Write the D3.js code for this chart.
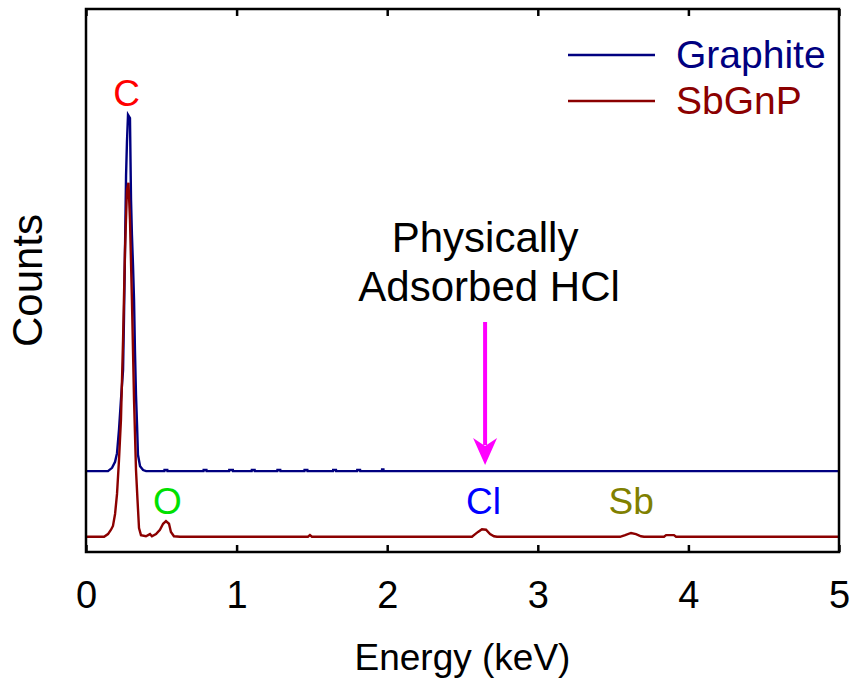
<!DOCTYPE html>
<html>
<head>
<meta charset="utf-8">
<script src="https://cdn.jsdelivr.net/npm/d3@7"></script>
<style>
  body { margin: 0; background: #fff; }
  text { font-family: Arial, "Liberation Sans", sans-serif; }
</style>
</head>
<body>
<div id="chart"></div>
<script>
// x ticks
const tickValues = [0, 1, 2, 3, 4, 5];

// SbGnP spectrum (energy in keV, counts a.u.)
const sbgnpEnergy = [0.00, 0.120, 0.146, 0.166, 0.179, 0.193, 0.206, 0.219, 0.232, 0.246, 0.259, 0.272, 0.282,
    0.292, 0.305, 0.319, 0.332, 0.342, 0.352, 0.365, 0.398, 0.425, 0.438, 0.465, 0.491, 0.512, 0.531, 0.551,
    0.564, 0.584, 0.624, 1.474, 1.487, 1.500, 2.563, 2.576, 2.603, 2.629, 2.656, 2.683, 2.709, 2.729,
    3.546, 3.580, 3.619, 3.652, 3.685, 3.705, 3.838, 3.852, 3.904, 3.918, 5.00];
const sbgnpCounts = [28, 28, 33, 41, 48, 70, 107, 169, 243, 390, 556, 667, 680,
    612, 464, 280, 151, 96, 44, 31, 29, 33, 29, 33, 41, 52, 57, 52,
    37, 29, 28, 28, 31, 28, 28, 31, 37, 42, 41, 33, 29, 28,
    28, 31, 35, 33, 29, 28, 28, 31, 31, 28, 28];

// Graphite spectrum (counts a.u., before vertical offset)
const graphiteEnergy = [0.00, 0.146, 0.173, 0.193, 0.206, 0.219, 0.232, 0.246, 0.252, 0.259, 0.266, 0.272, 0.279,
    0.292, 0.299, 0.305, 0.312, 0.319, 0.325, 0.332, 0.339, 0.345, 0.359, 0.379, 0.399,
    0.520, 0.521, 0.540, 0.541, 0.780, 0.781, 0.800, 0.801, 0.950, 0.951, 0.975, 0.976,
    1.100, 1.101, 1.120, 1.121, 1.270, 1.271, 1.290, 1.291, 1.450, 1.451, 1.470, 1.471,
    1.640, 1.641, 1.660, 1.661, 1.800, 1.801, 1.820, 1.821, 1.965, 1.966, 1.975, 1.976, 5.00];
const graphiteCounts = [27, 27, 33, 44, 60, 103, 158, 213, 305, 434, 572, 633, 683,
    677, 526, 462, 407, 342, 250, 167, 112, 57, 36, 29, 27,
    27, 29, 29, 27, 27, 29, 29, 27, 27, 29, 29, 27,
    27, 29, 29, 27, 27, 29, 29, 27, 27, 29, 29, 27,
    27, 29, 29, 27, 27, 29, 29, 27, 27, 30, 30, 27, 27];
const graphiteOffset = 122;

const seriesNames = ['Graphite', 'SbGnP'];
const seriesColors = ['#000080', '#8b0000'];

// element labels
const elementNames = ['C', 'O', 'Cl', 'Sb'];
const elementEnergy = [0.27, 0.54, 2.64, 3.62];
const elementCounts = [822, 70, 70, 70];
const elementColors = ['#ff0000', '#00e000', '#0000ff', '#808000'];

const arrowEnergy = 2.65;

function EdsChart() {
    let vis = this;
    vis.init();
}

EdsChart.prototype.init = function() {
    let vis = this;
    vis.width = 856;
    vis.height = 684;
    vis.margin = {left: 86, right: 17, top: 9, bottom: 132};

    vis.svg = d3.select('#chart').append('svg')
        .attr('width', vis.width)
        .attr('height', vis.height);

    vis.x = d3.scaleLinear()
        .domain([0, 5])
        .range([vis.margin.left, vis.width - vis.margin.right]);

    vis.y = d3.scaleLinear()
        .domain([0, 1000])
        .range([vis.height - vis.margin.bottom, vis.margin.top]);

    vis.draw();
}

EdsChart.prototype.draw = function() {
    let vis = this;
    let x0 = vis.x.range()[0], x1 = vis.x.range()[1];
    let y0 = vis.y.range()[0], y1 = vis.y.range()[1];

    let line = d3.line()
        .x(d => vis.x(d[0]))
        .y(d => vis.y(d[1]));

    let graphite = graphiteEnergy.map((e, i) => [e, graphiteCounts[i] + graphiteOffset]);
    let sbgnp = sbgnpEnergy.map((e, i) => [e, sbgnpCounts[i]]);

    vis.svg.append('path')
        .datum(graphite)
        .attr('d', line)
        .attr('fill', 'none')
        .attr('stroke', seriesColors[0])
        .attr('stroke-width', 2.4);

    vis.svg.append('path')
        .datum(sbgnp)
        .attr('d', line)
        .attr('fill', 'none')
        .attr('stroke', seriesColors[1])
        .attr('stroke-width', 2.4);

    // bottom axis, inward ticks
    let bottom = vis.svg.append('g')
        .attr('transform', `translate(0,${y0})`)
        .call(d3.axisBottom(vis.x).tickValues(tickValues).tickSize(-7).tickPadding(29).tickFormat(d3.format('d')));
    bottom.select('.domain').remove();
    bottom.selectAll('line').attr('stroke', '#000').attr('stroke-width', 2.5);
    bottom.selectAll('text')
        .attr('font-size', 38)
        .attr('fill', '#000')
        .attr('dy', '0.71em');

    let top = vis.svg.append('g')
        .attr('transform', `translate(0,${y1})`)
        .call(d3.axisTop(vis.x).tickValues(tickValues).tickSize(-7).tickFormat(''));
    top.select('.domain').remove();
    top.selectAll('line').attr('stroke', '#000').attr('stroke-width', 2.5);

    // frame
    vis.svg.append('rect')
        .attr('x', x0)
        .attr('y', y1)
        .attr('width', x1 - x0)
        .attr('height', y0 - y1)
        .attr('fill', 'none')
        .attr('stroke', '#000')
        .attr('stroke-width', 2.5);

    // axis titles
    vis.svg.append('text')
        .text('Energy (keV)')
        .attr('x', (x0 + x1) / 2)
        .attr('y', 670)
        .attr('text-anchor', 'middle')
        .attr('font-size', 37);

    vis.svg.append('text')
        .text('Counts')
        .attr('transform', `translate(42,${(y0 + y1) / 2}) rotate(-90)`)
        .attr('text-anchor', 'middle')
        .attr('font-size', 42);

    // element labels
    vis.svg.selectAll('.el-label')
        .data(elementNames)
        .enter()
        .append('text')
        .attr('class', 'el-label')
        .text(d => d)
        .attr('x', (d, i) => vis.x(elementEnergy[i]))
        .attr('y', (d, i) => vis.y(elementCounts[i]))
        .attr('text-anchor', 'middle')
        .attr('font-size', 37)
        .attr('fill', (d, i) => elementColors[i]);

    // annotation
    vis.svg.append('text')
        .text('Physically')
        .attr('x', vis.x(arrowEnergy))
        .attr('y', 252)
        .attr('text-anchor', 'middle')
        .attr('font-size', 42);
    vis.svg.append('text')
        .text('Adsorbed HCl')
        .attr('x', vis.x(arrowEnergy) + 4)
        .attr('y', 301)
        .attr('text-anchor', 'middle')
        .attr('font-size', 42);

    let ax = vis.x(arrowEnergy);
    vis.svg.append('line')
        .attr('x1', ax).attr('x2', ax)
        .attr('y1', 322).attr('y2', 445)
        .attr('stroke', '#ff00ff')
        .attr('stroke-width', 4);
    vis.svg.append('path')
        .attr('d', `M${ax - 12},438 L${ax},465 L${ax + 12},438 L${ax},446 Z`)
        .attr('fill', '#ff00ff');

    // legend
    let legend = vis.svg.selectAll('.legend')
        .data(seriesNames)
        .enter()
        .append('g')
        .attr('class', 'legend')
        .attr('transform', (d, i) => `translate(568,${55 + i * 46})`);
    legend.append('line')
        .attr('x1', 0).attr('x2', 87)
        .attr('stroke', (d, i) => seriesColors[i])
        .attr('stroke-width', 2.4);
    legend.append('text')
        .text(d => d)
        .attr('x', 108)
        .attr('y', 13)
        .attr('font-size', 39)
        .attr('fill', (d, i) => seriesColors[i]);
}

new EdsChart();
</script>
</body>
</html>
